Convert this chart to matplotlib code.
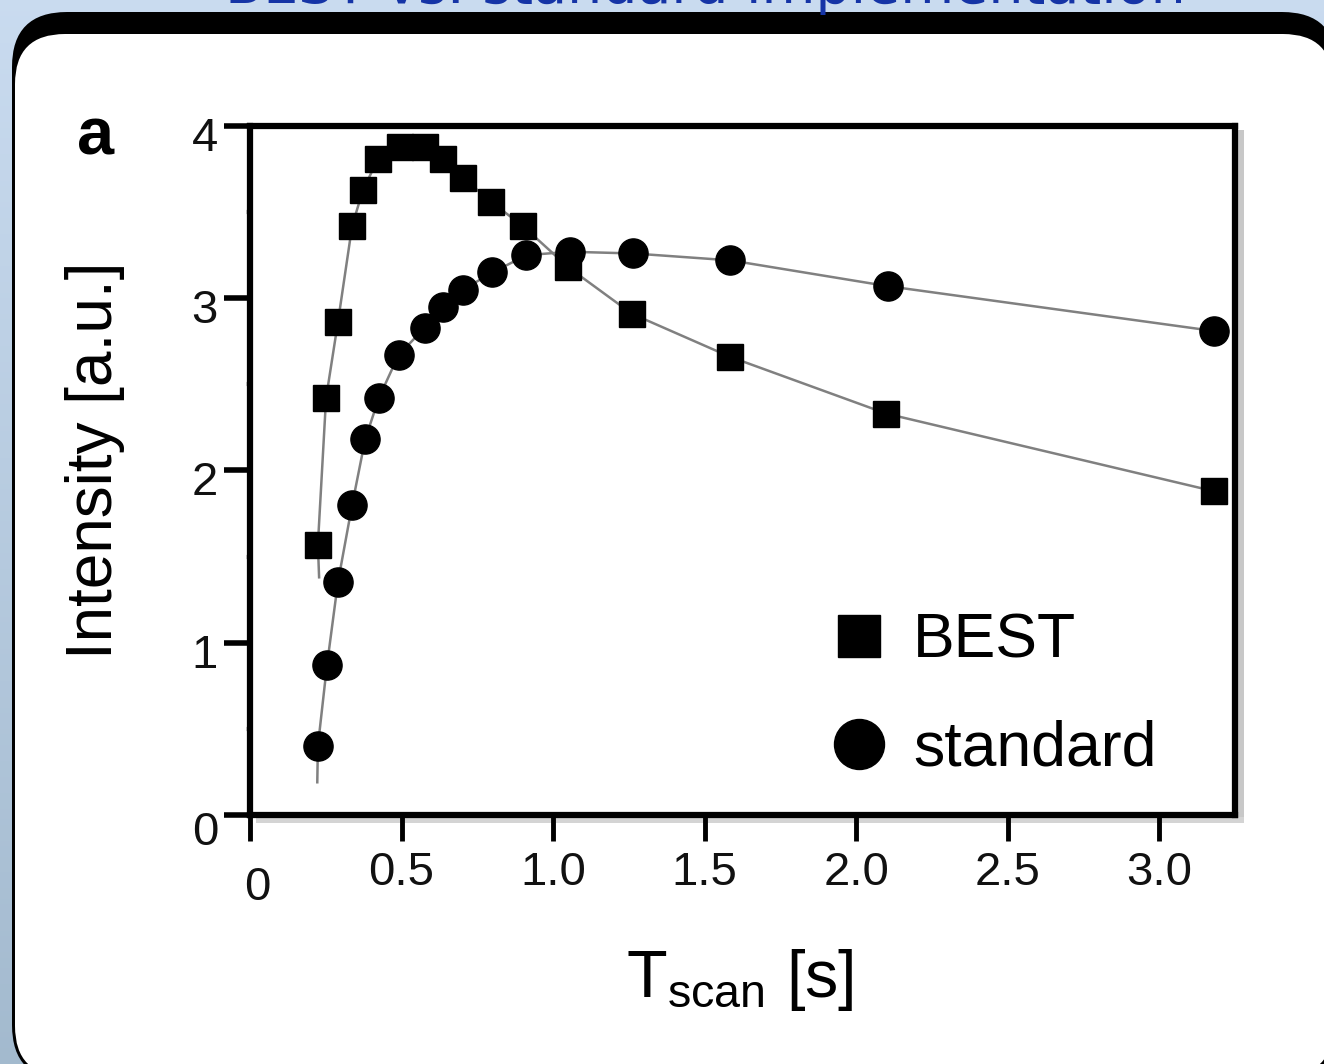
import numpy as np
import matplotlib.pyplot as plt
import matplotlib.transforms as mtransforms
from matplotlib.patches import FancyBboxPatch, Rectangle
from matplotlib.lines import Line2D

plt.rcParams['font.family'] = ['Liberation Sans Narrow', 'Liberation Sans', 'DejaVu Sans']
plt.rcParams['mathtext.fontset'] = 'custom'
plt.rcParams['mathtext.rm'] = 'Liberation Sans Narrow'

# scan time [s] vs. signal intensity [a.u.]
best_t = [0.224, 0.251, 0.290, 0.337, 0.373, 0.423, 0.495, 0.578, 0.637, 0.703,
          0.795, 0.900, 1.050, 1.260, 1.584, 2.100, 3.180]
best_i = [1.57, 2.42, 2.86, 3.42, 3.63, 3.81, 3.88, 3.88, 3.81, 3.70,
          3.56, 3.42, 3.18, 2.91, 2.66, 2.33, 1.88]
std_t = [0.224, 0.254, 0.290, 0.337, 0.380, 0.425, 0.490, 0.577, 0.637, 0.703,
         0.800, 0.912, 1.055, 1.265, 1.585, 2.105, 3.180]
std_i = [0.40, 0.87, 1.35, 1.80, 2.18, 2.42, 2.67, 2.83, 2.95, 3.05,
         3.15, 3.25, 3.27, 3.26, 3.22, 3.07, 2.81]
# fitted curves begin a little below the first measured point
best_fit_start = (0.228, 1.38)
std_fit_start = (0.222, 0.19)

xticks = [0, 0.5, 1.0, 1.5, 2.0, 2.5, 3.0]
xticklabels = ['0', '0.5', '1.0', '1.5', '2.0', '2.5', '3.0']
yticks = [0, 1, 2, 3, 4]

W, H = 1324, 1064
fig = plt.figure(figsize=(W / 100, H / 100), dpi=100)

# slide background with the rounded panel
bg = fig.add_axes([0, 0, 1, 1])
bg.set_xlim(0, W)
bg.set_ylim(H, 0)
bg.axis('off')
top = np.array([0.79, 0.86, 0.94])
bottom = np.array([0.64, 0.73, 0.81])
s = np.linspace(0, 1, 200)[:, None, None]
grad = np.repeat(top * (1 - s) + bottom * s, 2, axis=1)
bg.imshow(grad, extent=(0, W, H, 0), aspect='auto', zorder=0)
bg.add_patch(FancyBboxPatch((12, 12), 1325, 1068,
                            boxstyle='round,pad=0,rounding_size=55',
                            fc='black', ec='none', zorder=1))
bg.add_patch(FancyBboxPatch((15, 34), 1318, 1042,
                            boxstyle='round,pad=0,rounding_size=50',
                            fc='white', ec='none', zorder=2))
bg.text(705, 3, 'BEST vs. standard implementation', color='#1534a6',
        fontsize=40, family='DejaVu Sans', ha='center', va='baseline', zorder=3)
# drop shadow of the plot frame
bg.add_patch(Rectangle((1237, 130), 7, 692, fc='#c8c8c8', ec='none', zorder=2))
bg.add_patch(Rectangle((256, 817), 988, 6, fc='#d4d4d4', ec='none', zorder=2))

ax = fig.add_axes([250 / W, 1 - 815 / H, 985 / W, 689 / H])
ax.set_facecolor('white')

ax.plot([best_fit_start[0]] + best_t, [best_fit_start[1]] + best_i,
        color='#808080', lw=1.8, zorder=2)
ax.plot([std_fit_start[0]] + std_t, [std_fit_start[1]] + std_i,
        color='#808080', lw=1.8, zorder=2)
ax.plot(best_t, best_i, 's', color='black', ms=19, zorder=3)
ax.plot(std_t, std_i, 'o', color='black', ms=21, zorder=3)

ax.set_xlim(0, 3.25)
ax.set_ylim(0, 4)
ax.set_xticks(xticks)
ax.set_xticklabels(xticklabels)
ax.set_yticks(yticks)
ax.set_yticks([0.5, 1.5, 2.5, 3.5], minor=True)

for sp in ax.spines.values():
    sp.set_linewidth(4.5)
ax.tick_params(axis='x', direction='out', length=19, width=3.5,
               labelsize=34, pad=7, labelcolor='#111111')
ax.tick_params(axis='y', direction='out', length=19, width=4,
               labelsize=34, pad=4, labelcolor='#111111')
ax.tick_params(axis='y', which='minor', length=3, width=3, color='#cccccc')

# nudge tick labels the way the original figure has them
down = mtransforms.ScaledTranslation(0, -0.08, fig.dpi_scale_trans)
for lab in ax.get_yticklabels():
    lab.set_transform(lab.get_transform() + down)
ylab0 = ax.get_yticklabels()[0]
ylab0.set_transform(ylab0.get_transform() + mtransforms.ScaledTranslation(0, -0.05, fig.dpi_scale_trans))
xlab0 = ax.get_xticklabels()[0]
xlab0.set_transform(xlab0.get_transform() + mtransforms.ScaledTranslation(0.07, -0.15, fig.dpi_scale_trans))

ax.set_ylabel('Intensity [a.u.]', fontsize=46, va='center')
ax.yaxis.set_label_coords(-0.157, 0.515)
ax.set_xlabel(r'$\mathregular{T_{scan}}$ [s]', fontsize=48, va='center')
ax.xaxis.set_label_coords(0.497, -0.239)
ax.text(-0.157, 0.983, 'a', transform=ax.transAxes, fontsize=48,
        fontweight='bold', ha='center', va='center')

handles = [Line2D([], [], marker='s', ls='none', color='black', ms=30),
           Line2D([], [], marker='o', ls='none', color='black', ms=36)]
ax.legend(handles, ['BEST', 'standard'], loc='upper left',
          bbox_to_anchor=(0.587, 0.295), frameon=False, fontsize=45,
          handlelength=1.0, handletextpad=0.36, labelspacing=0.78,
          borderpad=0, borderaxespad=0)

fig.savefig('out.png', dpi=100)
